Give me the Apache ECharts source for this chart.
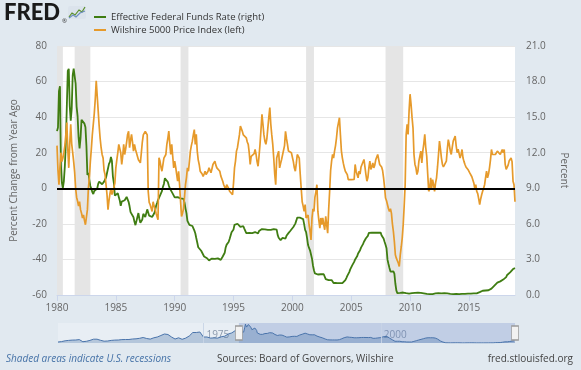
<!DOCTYPE html>
<html><head><meta charset="utf-8">
<script src="https://cdn.jsdelivr.net/npm/echarts@6/dist/echarts.min.js"></script>
<style>html,body{margin:0;padding:0;background:#e1e9f0}#c{width:581px;height:370px}</style>
</head><body><div id="c"></div>
<script>
// ---- Effective Federal Funds Rate, monthly (%) ----
const fed1980s = [
13.82,14.13,17.19,17.61,10.98,9.47,9.03,9.61,10.87,12.81,15.85,18.90,
19.08,15.93,14.70,15.72,18.52,19.10,19.04,17.82,15.87,15.08,13.31,12.37,
13.22,14.78,14.68,14.94,14.45,14.15,12.59,10.12,10.31,9.71,9.20,8.95,
8.68,8.51,8.77,8.80,8.63,8.98,9.37,9.56,9.45,9.48,9.34,9.47,
9.56,9.59,9.91,10.29,10.32,11.06,11.23,11.64,11.30,9.99,9.43,8.38,
8.35,8.50,8.58,8.27,7.97,7.53,7.88,7.90,7.92,7.99,8.05,8.27,
8.14,7.86,7.48,6.99,6.85,6.92,6.56,6.17,5.89,5.85,6.04,6.91,
6.43,6.10,6.13,6.37,6.85,6.73,6.58,6.73,7.22,7.29,6.69,6.77,
6.83,6.58,6.58,6.87,7.09,7.51,7.75,8.01,8.19,8.30,8.35,8.76,
9.12,9.36,9.85,9.84,9.81,9.53,9.24,8.99,9.02,8.84,8.55,8.45];
const fed1990s = [
8.23,8.24,8.28,8.26,8.18,8.29,8.15,8.13,8.20,8.11,7.81,7.31,
6.91,6.25,6.12,5.91,5.78,5.90,5.82,5.66,5.45,5.21,4.81,4.43,
4.03,4.06,3.98,3.73,3.82,3.76,3.25,3.30,3.22,3.10,3.09,2.92,
3.02,3.03,3.07,2.96,3.00,3.04,3.06,3.03,3.09,2.99,3.02,2.96,
3.05,3.25,3.34,3.56,4.01,4.25,4.26,4.47,4.73,4.76,5.29,5.45,
5.53,5.92,5.98,6.05,6.01,6.00,5.85,5.74,5.80,5.76,5.80,5.60,
5.56,5.22,5.31,5.22,5.24,5.27,5.40,5.22,5.30,5.24,5.31,5.29,
5.25,5.19,5.39,5.51,5.50,5.56,5.52,5.54,5.54,5.50,5.52,5.50,
5.56,5.51,5.49,5.45,5.49,5.56,5.54,5.55,5.51,5.07,4.83,4.68,
4.63,4.76,4.81,4.74,4.74,4.76,4.99,5.07,5.22,5.20,5.42,5.30];
const fed2000s = [
5.45,5.73,5.85,6.02,6.27,6.53,6.54,6.50,6.52,6.51,6.51,6.40,
5.98,5.49,5.31,4.80,4.21,3.97,3.77,3.65,3.07,2.49,2.09,1.82,
1.73,1.74,1.73,1.75,1.75,1.75,1.73,1.74,1.75,1.75,1.34,1.24,
1.24,1.26,1.25,1.26,1.26,1.22,1.01,1.03,1.01,1.01,1.00,0.98,
1.00,1.01,1.00,1.00,1.00,1.03,1.26,1.43,1.61,1.76,1.93,2.16,
2.28,2.50,2.63,2.79,3.00,3.04,3.26,3.50,3.62,3.78,4.00,4.16,
4.29,4.49,4.59,4.79,4.94,4.99,5.24,5.25,5.25,5.25,5.25,5.24,
5.25,5.26,5.26,5.25,5.25,5.25,5.26,5.02,4.94,4.76,4.49,4.24,
3.94,2.98,2.61,2.28,1.98,2.00,2.01,2.00,1.81,0.97,0.39,0.16,
0.15,0.22,0.18,0.15,0.18,0.21,0.16,0.16,0.15,0.12,0.12,0.12];
const fed2010s = [
0.11,0.13,0.16,0.20,0.20,0.18,0.18,0.19,0.19,0.19,0.19,0.18,
0.17,0.16,0.14,0.10,0.09,0.09,0.07,0.10,0.08,0.07,0.08,0.07,
0.08,0.10,0.13,0.14,0.16,0.16,0.16,0.13,0.14,0.16,0.16,0.16,
0.14,0.15,0.14,0.15,0.11,0.09,0.09,0.08,0.08,0.09,0.08,0.09,
0.07,0.07,0.08,0.09,0.09,0.10,0.09,0.09,0.09,0.09,0.09,0.12,
0.11,0.11,0.11,0.12,0.12,0.13,0.13,0.14,0.14,0.12,0.12,0.24,
0.34,0.38,0.36,0.37,0.37,0.38,0.39,0.40,0.40,0.40,0.41,0.54,
0.65,0.66,0.79,0.90,0.91,1.04,1.15,1.16,1.15,1.15,1.16,1.30,
1.41,1.42,1.51,1.69,1.70,1.82,1.91,1.91,1.95,2.19,2.20,2.27];
// Fed funds before 1980 (half-yearly, from mid-1954) for the navigator
const fedPre1980 = [1.0,1.4,2.2,2.6,2.9,3.0,3.4,1.3,1.7,2.6,3.8,3.8,2.7,1.8,2.0,2.6,2.9,3.0,3.4,3.5,3.5,4.0,4.2,4.7,5.5,4.5,3.9,5.2,6.0,7.5,9.0,8.5,6.0,4.0,5.2,3.7,4.9,7.0,10.5,10.5,11.0,6.0,6.0,4.9,5.1,4.9,6.2,6.8,9.0,10.1,12.5];

// ---- Wilshire 5000 Price Index, percent change from year ago, monthly ----
const wil1980s = [
24,10,2,12,20,15,17,20,24,30,37,22,
11.5,25,36,25,20,15,9,0,-5,-7.3,-10,-7.5,
-12,-14,-16.7,-15,-18,-20.5,-19.5,-12,0,5.9,15,22,
30,36,42,50,60.4,52,43.5,35,28,22.8,19,17,
10,7.7,2,-3.6,-12,-7,-3,0,-3.5,-2,-1.7,3,
11.5,16,20,24.7,25.3,20,13.4,18,24.7,19,22,26,
30.3,32,22.8,27,30.3,26,20.9,24.7,22,20,18,16,
15,14.3,20,26,30,30.3,32,33,30,-1.7,-8,-9.2,
-9.2,-13,-7.6,-10,-11.5,-14,-15,-17.7,17.2,15.3,12,9.6,
9.6,17,18,19,24.7,28,32.2,25,19,24.7,18,11.5];
const wil1990s = [
15.3,12,8,4,9.6,2,-7.6,-15.8,-14,-11.5,-5,2,
6,11.5,9.6,15,20.9,24,26.5,30,33,24.7,30.3,20.9,
16,13.4,9.6,10.6,8,6.6,8,9.6,7.7,8.5,9.6,11.5,
11.5,8.7,11,13.4,14,15.3,13,11.5,12.4,11,9.6,7,
6,4,2,1,-0.7,2,1,0,-1.7,-1,-2,-3.6,
3,11.5,15.3,20.9,22.8,26.5,30,35,34,32,30,29,
30,28.4,26,24.7,20,13.4,18,17.5,17,19.5,21.8,19,
15,12.4,18,24.7,33,41.6,36,30,26.5,24.7,28,34,
40,45.4,36,30,24.7,17,8,2,17,19,20.9,11.5,
14,16.2,16.5,17,24,32,28,24.7,20.9,21,20.9,20];
const wil2000s = [
19,15,11.5,9.6,14,19,18,17,8,0,-7.6,-10,
-13,-9.2,-16.7,-16,-15,-20.5,-24,-29,-16.7,-11.5,-13,-5,
-2,2,-13,-18,-22.4,-16.7,-20.5,-16.7,-20.5,-23.3,-15.8,-20.5,
-25.2,-12,-1.7,10,15.3,19,17,20.9,24,28.4,34,35,
39.7,30,20.9,17,14,11.5,9.6,10.6,7.7,4.9,6,5.9,
4.9,6,4.9,5,13.4,9.6,7.7,5.9,9.6,8,12,11,
13,16.2,12,7.7,4,6,11.5,15.3,10.6,12,14.3,11.5,
13,16,15,19,16.2,13.4,14.3,12,10,5.9,0.6,-5.5,
-7,-7.6,-11.5,-13,-11.5,-14,-20,-24.3,-30,-37.4,-39.3,-40,
-42,-44,-37.4,-33,-28,-20.5,-10,2,30,36,30.3,43.5];
const wil2010s = [
52.9,47.3,40,34,19,13.4,11.5,7.7,9.6,15.3,16.2,20.9,
14.3,20.9,25,30.3,22.8,18,8,-1.7,-0.5,5.9,0,4.9,
2,-1.7,3,5.9,12,19,26.5,22,17,13.4,12,11.5,
13,15.3,22,27.4,24.7,21,19,23,26.5,28,29.3,24,
20,22,20.9,17,19,21.8,17,15,13.4,12,11.5,10.6,
9.6,8.5,7.7,6.5,5.9,3,0,2,-1.7,-3,-6,-9.2,
-6,-3.6,-1.7,0,2,6,9.6,5.9,8,11.5,16,21.8,
19,20,19.5,19,20,20.9,20,21.8,19,20,21.8,20,
21.8,13.4,10.6,11.5,13,15.3,15,17,15,4,2,-7.6];

const recessions = [['1980-01','1980-07'],['1981-07','1982-11'],['1990-07','1991-03'],['2001-03','2001-11'],['2007-12','2009-06']];
const xTickYears = [1980,1985,1990,1995,2000,2005,2010,2015];
const navTickYears = [1975,2000];
const seriesNames = ['Effective Federal Funds Rate (right)','Wilshire 5000 Price Index (left)'];

// ---- helpers ----
const ym = s => { const [y,m] = s.split('-').map(Number); return y + (m-1)/12; };
const monthly = (arr, y0) => arr.map((v,i) => [y0 + i/12, v]);
const fedAll = [].concat(fed1980s, fed1990s, fed2000s, fed2010s);
const wilAll = [].concat(wil1980s, wil1990s, wil2000s, wil2010s);
const fedData = monthly(fedAll, 1980);
const wilData = monthly(wilAll, 1980);
const xEnd = 1980 + (fedAll.length - 1)/12;
const navData = fedPre1980.map((v,i)=>[1954.5 + i*0.5, v]).concat(fedData);

const GREEN = '#3f7d12', ORANGE = '#e69a2b', FONT = "'Open Sans', sans-serif";

const chart = echarts.init(document.getElementById('c'), null, {renderer:'canvas'});
chart.setOption({
  backgroundColor: '#e1e9f0',
  animation: false,
  textStyle: {fontFamily: FONT},
  grid: [
    {left:57, right:66, top:46, bottom:75, show:true, backgroundColor:'#ffffff', borderWidth:0},
    {left:58, right:66, top:323, bottom:27, show:true, backgroundColor:'rgba(255,255,255,0.25)', borderWidth:0}
  ],
  legend: {
    data: seriesNames, orient:'vertical', left:89, top:6, itemWidth:12, itemHeight:2, itemGap:1,
    icon:'rect', textStyle:{fontSize:9.5, color:'#333', fontFamily:FONT, lineHeight:12}
  },
  xAxis: [
    {type:'value', gridIndex:0, min:1980, max:xEnd,
     axisLine:{show:true, onZero:false, lineStyle:{color:'#ccd6eb'}},
     axisTick:{show:true, customValues:xTickYears, length:6, lineStyle:{color:'#ccd6eb'}},
     axisLabel:{customValues:xTickYears, color:'#666', fontSize:10, margin:8, formatter:v=>String(v)},
     splitLine:{show:false}},
    {type:'value', gridIndex:1, min:1954.5, max:xEnd,
     axisLine:{show:false}, axisTick:{show:false},
     axisLabel:{customValues:navTickYears, inside:true, margin:3, align:'left', padding:[0,0,0,3], color:'#8a98ab', fontSize:10, formatter:v=>String(v)},
     splitLine:{show:false}}
  ],
  yAxis: [
    {type:'value', gridIndex:0, min:-60, max:80, interval:20,
     name:'Percent Change from Year Ago', nameLocation:'middle', nameGap:38,
     nameTextStyle:{color:'#666', fontSize:10},
     axisLine:{show:false}, axisTick:{show:false},
     axisLabel:{color:'#666', fontSize:10, margin:10},
     splitLine:{show:true, lineStyle:{color:'#e6e6e6'}}},
    {type:'value', gridIndex:0, position:'right', min:0, max:21, interval:3,
     name:'Percent', nameLocation:'middle', nameRotate:-90, nameGap:44,
     nameTextStyle:{color:'#666', fontSize:10},
     axisLine:{show:false}, axisTick:{show:false},
     axisLabel:{color:'#666', fontSize:10, margin:11, formatter:v=>v.toFixed(1)},
     splitLine:{show:false}},
    {type:'value', gridIndex:1, min:0, max:20, show:false, splitLine:{show:false}}
  ],
  series: [
    {name:'recessions', type:'line', xAxisIndex:0, yAxisIndex:0, data:[], z:1, silent:true,
     markArea:{silent:true, itemStyle:{color:'#e5e5e5'},
       data: recessions.map(r=>[{xAxis:ym(r[0])},{xAxis:ym(r[1])}])}},
    {name:seriesNames[0], type:'line', xAxisIndex:0, yAxisIndex:1, data:fedData,
     showSymbol:false, color:GREEN, lineStyle:{width:1.8, color:GREEN}, z:3},
    {name:seriesNames[1], type:'line', xAxisIndex:0, yAxisIndex:0, data:wilData,
     showSymbol:false, color:ORANGE, lineStyle:{width:1.7, color:ORANGE}, z:4},
    {name:'zero', type:'line', xAxisIndex:0, yAxisIndex:0, data:[], z:5, silent:true,
     markLine:{silent:true, symbol:['none','none'], label:{show:false},
       lineStyle:{color:'#000', width:2, type:'solid'}, data:[{yAxis:0}]}},
    {name:'navigator', type:'line', xAxisIndex:1, yAxisIndex:2, data:navData,
     showSymbol:false, silent:true, lineStyle:{width:1, color:'#4a74ab'},
     areaStyle:{color:'rgba(69,114,167,0.45)'}, z:2,
     markArea:{silent:true, itemStyle:{color:'rgba(102,133,194,0.3)'},
       data:[[{xAxis:1980},{xAxis:xEnd}]]},
     markLine:{silent:true, symbol:['none','none'], label:{show:false},
       lineStyle:{color:'rgba(200,212,230,0.9)', width:1, type:'solid'},
       data: navTickYears.map(y=>({xAxis:y}))},
     markPoint:{silent:true, symbol:'rect', symbolSize:[7,14], label:{show:false},
       itemStyle:{color:'#f2f2f2', borderColor:'#999', borderWidth:1},
       data:[{coord:[1980,10]},{coord:[xEnd,10]}]}}
  ],
  graphic: [
    {type:'text', left:4, top:2, style:{text:'FRED', font:"900 22px Lato, 'Open Sans', sans-serif", fill:'#1a1a1a'}},
    {type:'text', left:62, top:18, style:{text:'®', font:"6px 'Open Sans'", fill:'#333'}},
    {type:'rect', shape:{x:68, y:6, width:18, height:13, r:2}, style:{fill:'#dbe3ec'}},
    {type:'polyline', shape:{points:[[69,17],[72,13],[75,15],[79,10],[82,12],[85,7]]}, style:{stroke:'#5a8f2a', lineWidth:1.2, fill:null}},
    {type:'polyline', shape:{points:[[69,18],[73,15],[76,17],[80,13],[85,11]]}, style:{stroke:'#6d8fbf', lineWidth:1.2, fill:null}},
    {type:'text', left:6, top:354, style:{text:'Shaded areas indicate U.S. recessions', font:"italic 10px 'Open Sans'", fill:'#4572a7'}},
    {type:'text', left:217, top:354, style:{text:'Sources: Board of Governors, Wilshire', font:"10px 'Open Sans'", fill:'#444'}},
    {type:'text', right:8, top:354, style:{text:'fred.stlouisfed.org', font:"10px 'Open Sans'", fill:'#444'}}
  ]
});
</script></body></html>
